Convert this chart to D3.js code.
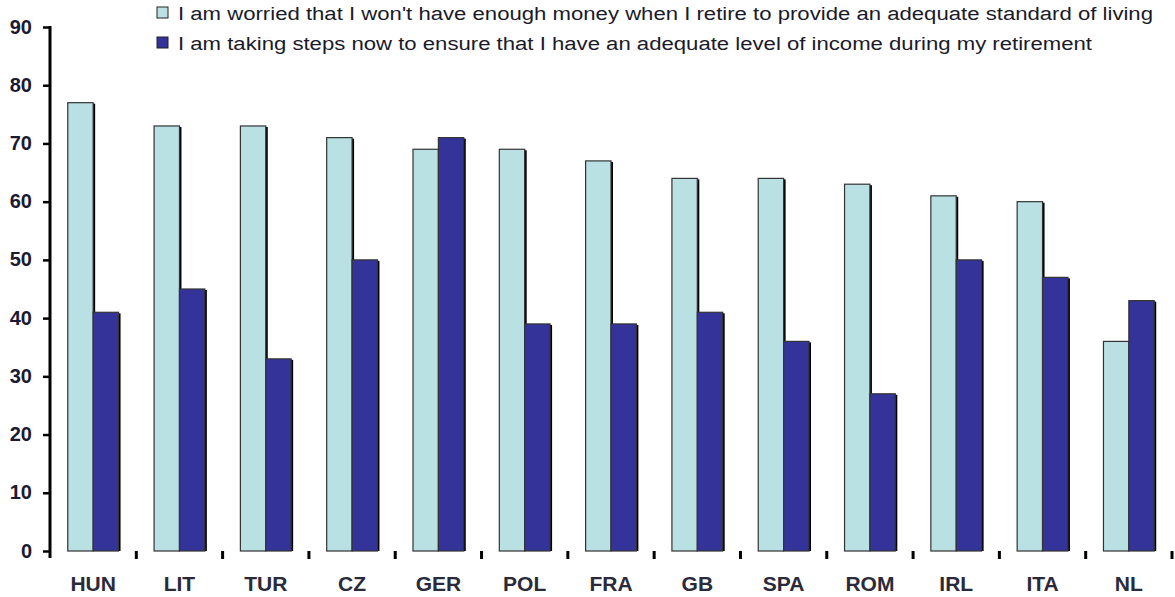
<!DOCTYPE html>
<html>
<head>
<meta charset="utf-8">
<script src="https://cdn.jsdelivr.net/npm/d3@7"></script>
<style>
  body { margin: 0; background: #fff; }
  svg { display: block; font-family: "Liberation Sans", Arial, sans-serif; }
  .ytick text { font-weight: bold; font-size: 20px; fill: #1a1a33; }
  .xlab { font-weight: bold; font-size: 21px; fill: #2a2a3a; }
  .legend text { font-size: 18px; fill: #1a1a2a; }
</style>
</head>
<body>
<script>
// Width and height
var w = 1175,
    h = 597;

// data
var countries = ['HUN', 'LIT', 'TUR', 'CZ', 'GER', 'POL', 'FRA', 'GB', 'SPA', 'ROM', 'IRL', 'ITA', 'NL'];
var worried = [77, 73, 73, 71, 69, 69, 67, 64, 64, 63, 61, 60, 36];
var saving = [41, 45, 33, 50, 71, 39, 39, 41, 36, 27, 50, 47, 43];
var seriesNames = [
  "I am worried that I won't have enough money when I retire to provide an adequate standard of living",
  "I am taking steps now to ensure that I have an adequate level of income during my retirement"
];
var yTicks = [0, 10, 20, 30, 40, 50, 60, 70, 80, 90];

var colors = ['#b9e0e3', '#333399'];

var svg = d3.select('body')
            .append('svg')
            .attr('width', w)
            .attr('height', h);

// Scales
var xScale = d3.scaleBand()
               .domain(countries)
               .range([50, 1172])
               .padding(0);

var xInner = d3.scaleBand()
               .domain([0, 1])
               .range([0, xScale.bandwidth()])
               .paddingInner(0)
               .paddingOuter(0.7);

var yScale = d3.scaleLinear()
               .domain([0, 90])
               .range([551, 27]);

// bars: one group per country
var groups = svg.selectAll('g.country')
                .data(countries)
                .enter()
                .append('g')
                .attr('class', 'country')
                .attr('transform', function(d) { return 'translate(' + xScale(d) + ',0)'; });

var barData = function(d, i) {
  return [
    { s: 0, v: worried[i] },
    { s: 1, v: saving[i] }
  ];
};

// shadow on the right side
groups.selectAll('rect.shadow')
      .data(barData)
      .enter()
      .append('rect')
      .attr('class', 'shadow')
      .attr('x', function(d) { return xInner(d.s) + 2; })
      .attr('y', function(d) { return yScale(d.v) + 1; })
      .attr('width', xInner.bandwidth())
      .attr('height', function(d) { return yScale(0) - yScale(d.v) - 1; })
      .attr('fill', '#000');

groups.selectAll('rect.bar')
      .data(barData)
      .enter()
      .append('rect')
      .attr('class', 'bar')
      .attr('x', function(d) { return xInner(d.s); })
      .attr('y', function(d) { return yScale(d.v); })
      .attr('width', xInner.bandwidth())
      .attr('height', function(d) { return yScale(0) - yScale(d.v); })
      .attr('fill', function(d) { return colors[d.s]; })
      .attr('stroke', '#333')
      .attr('stroke-width', 1.2);

// y axis, thick line drawn separately
var yAxis = d3.axisLeft(yScale)
              .tickValues(yTicks)
              .tickSize(7)
              .tickPadding(11);

var yg = svg.append('g')
            .attr('class', 'ytick')
            .attr('transform', 'translate(50,0)')
            .call(yAxis);
yg.select('.domain').remove();
yg.selectAll('.tick line').attr('stroke', '#000').attr('stroke-width', 2.5);
yg.selectAll('.tick text').attr('dy', '0.3em');
yg.append('line')
  .attr('x1', 0).attr('x2', 0)
  .attr('y1', yScale(90) - 1).attr('y2', 558)
  .attr('stroke', '#000')
  .attr('stroke-width', 3);

// small x ticks between categories
var bounds = countries.map(function(c) { return xScale(c) + xScale.bandwidth(); });
svg.selectAll('rect.xtick')
   .data(bounds)
   .enter()
   .append('rect')
   .attr('class', 'xtick')
   .attr('x', function(d) { return d - 1.5; })
   .attr('y', 551)
   .attr('width', 3)
   .attr('height', 8)
   .attr('fill', '#000');

// category labels
svg.selectAll('text.xlab')
   .data(countries)
   .enter()
   .append('text')
   .attr('class', 'xlab')
   .attr('x', function(d) { return xScale(d) + xScale.bandwidth() / 2; })
   .attr('y', 591)
   .attr('text-anchor', 'middle')
   .text(function(d) { return d; });

// legend
var legend = svg.append('g').attr('class', 'legend');
var legendWidths = [975, 914];
legend.selectAll('rect')
      .data(seriesNames)
      .enter()
      .append('rect')
      .attr('x', 157)
      .attr('y', function(d, i) { return 7 + i * 30; })
      .attr('width', 11)
      .attr('height', 11)
      .attr('fill', function(d, i) { return colors[i]; })
      .attr('stroke', '#222')
      .attr('stroke-width', 1);

legend.selectAll('text')
      .data(seriesNames)
      .enter()
      .append('text')
      .attr('x', 178)
      .attr('y', function(d, i) { return 20 + i * 30; })
      .attr('textLength', function(d, i) { return legendWidths[i]; })
      .attr('lengthAdjust', 'spacingAndGlyphs')
      .text(function(d) { return d; });
</script>
</body>
</html>
